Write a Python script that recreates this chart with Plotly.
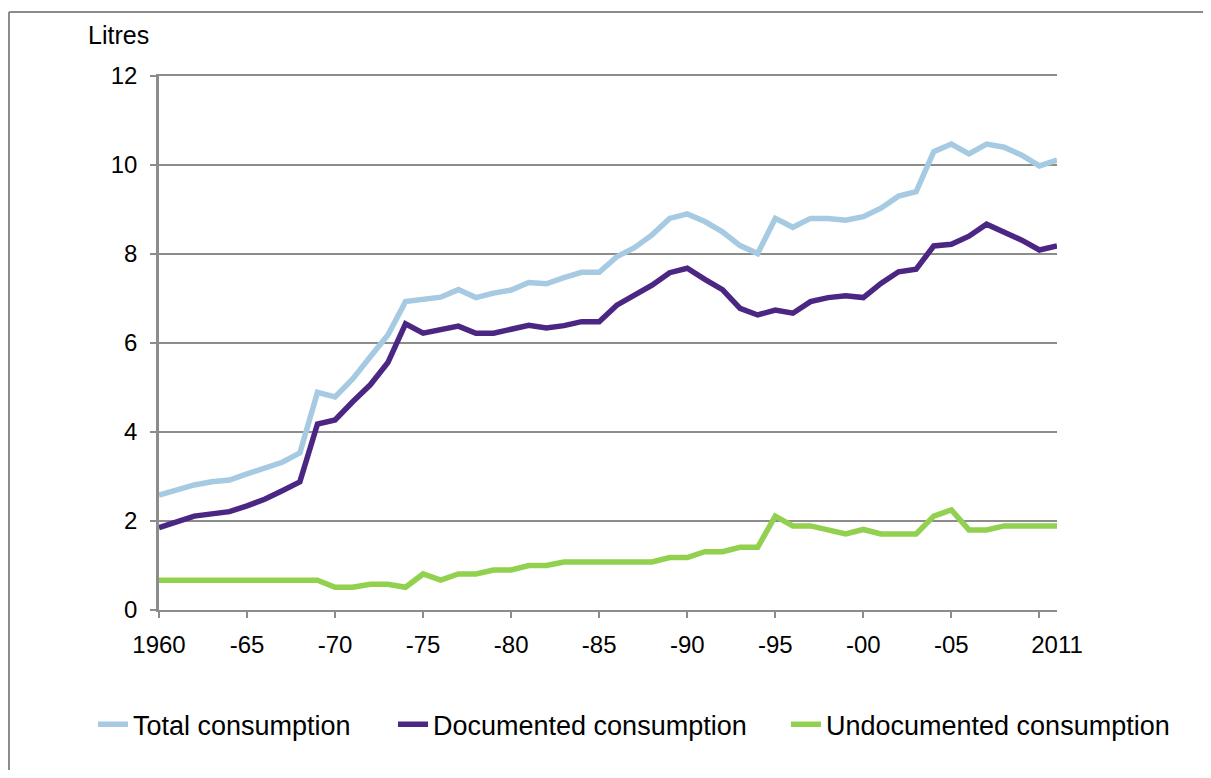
import plotly.graph_objects as go

years = list(range(1960, 2012))

total = [2.58, 2.71, 2.81, 2.88, 2.92, 3.06, 3.18, 3.32, 3.53, 4.89,
         4.79, 5.19, 5.69, 6.18, 6.93, 6.98, 7.03, 7.20, 7.02, 7.12,
         7.19, 7.36, 7.33, 7.47, 7.59, 7.59, 7.94, 8.14, 8.43, 8.80,
         8.90, 8.73, 8.50, 8.19, 8.01, 8.80, 8.60, 8.80, 8.80, 8.76,
         8.84, 9.03, 9.30, 9.40, 10.30, 10.47, 10.25, 10.47, 10.40, 10.22,
         9.98, 10.11]

documented = [1.85, 1.97, 2.11, 2.16, 2.21, 2.34, 2.49, 2.68, 2.88, 4.18,
              4.27, 4.68, 5.06, 5.56, 6.43, 6.22, 6.29, 6.38, 6.22, 6.22,
              6.31, 6.40, 6.34, 6.39, 6.48, 6.48, 6.85, 7.06, 7.30, 7.58,
              7.68, 7.43, 7.20, 6.78, 6.63, 6.74, 6.67, 6.93, 7.02, 7.06,
              7.02, 7.34, 7.60, 7.66, 8.18, 8.22, 8.40, 8.67, 8.49, 8.31,
              8.09, 8.18]

undocumented = [0.67, 0.67, 0.67, 0.67, 0.67, 0.67, 0.67, 0.67, 0.67, 0.67,
                0.51, 0.51, 0.58, 0.58, 0.51, 0.81, 0.67, 0.81, 0.81, 0.90,
                0.90, 1.00, 1.00, 1.08, 1.08, 1.08, 1.08, 1.08, 1.08, 1.18,
                1.18, 1.31, 1.31, 1.41, 1.41, 2.11, 1.89, 1.89, 1.80, 1.71,
                1.81, 1.71, 1.71, 1.71, 2.11, 2.25, 1.80, 1.80, 1.89, 1.89,
                1.89, 1.89]

series_names = ["Total consumption", "Documented consumption", "Undocumented consumption"]
series_colors = ["#A6CAE2", "#4B2683", "#92D050"]
legend_ids = ["legend", "legend2", "legend3"]
legend_x = [-0.0735, 0.2606, 0.6982]

tick_mark_years = list(range(1960, 2011, 5))
label_years = [1960, 1965, 1970, 1975, 1980, 1985, 1990, 1995, 2000, 2005, 2011]
label_text = ["1960", "-65", "-70", "-75", "-80", "-85", "-90", "-95", "-00", "-05", "2011"]

FONT = "Liberation Sans, Arial, sans-serif"
GRAY = "#8C8C8C"

fig = go.Figure()
for name, vals, col, lg in zip(series_names, [total, documented, undocumented],
                               series_colors, legend_ids):
    fig.add_trace(go.Scatter(x=years, y=vals, mode="lines", name=name, legend=lg,
                             line=dict(color=col, width=5.5)))

# invisible trace to anchor the label axis
fig.add_trace(go.Scatter(x=[1960, 2011], y=[0, 0], xaxis="x2", mode="lines",
                         line=dict(width=0), showlegend=False, hoverinfo="skip"))

legend_common = dict(orientation="h", xanchor="left", y=-0.215, yanchor="middle",
                     font=dict(size=27, family=FONT), bgcolor="rgba(0,0,0,0)")

fig.update_layout(
    width=1195, height=762,
    margin=dict(l=151, r=146, t=68, b=160),
    paper_bgcolor="white", plot_bgcolor="white",
    font=dict(family=FONT, size=24, color="black"),
    xaxis=dict(range=[1960, 2011], tickmode="array", tickvals=tick_mark_years,
               showticklabels=False, ticks="outside", ticklen=6, tickwidth=2,
               tickcolor=GRAY, showline=True, linecolor=GRAY, linewidth=2,
               mirror=True, showgrid=False, zeroline=False),
    xaxis2=dict(range=[1960, 2011], overlaying="x", anchor="y", side="bottom",
                tickmode="array", tickvals=label_years, ticktext=label_text,
                ticks="", showline=False, showgrid=False, zeroline=False,
                ticklabelstandoff=18, tickfont=dict(size=24, family=FONT)),
    yaxis=dict(range=[0, 12], tickmode="array", tickvals=[0, 2, 4, 6, 8, 10, 12],
               ticks="outside", ticklen=6, tickwidth=2, tickcolor=GRAY,
               showline=True, linecolor=GRAY, linewidth=2.5,
               showgrid=True, gridcolor=GRAY, gridwidth=2, zeroline=False,
               ticklabelstandoff=8, tickfont=dict(size=24, family=FONT)),
    legend=dict(x=legend_x[0], **legend_common),
    legend2=dict(x=legend_x[1], **legend_common),
    legend3=dict(x=legend_x[2], **legend_common),
    showlegend=True,
)

fig.add_annotation(text="Litres", xref="paper", yref="paper",
                   x=(118 - 159) / 898, y=(610 - 35) / 534,
                   showarrow=False, font=dict(size=25, family=FONT),
                   xanchor="center", yanchor="middle")

# outer chart-area frame (only its left and top edges are inside the picture)
frame_left = (9 - 159) / 898
frame_top = (610 - 12) / 534
fig.add_shape(type="line", xref="paper", yref="paper",
              x0=frame_left, x1=frame_left, y0=-1.0, y1=frame_top,
              line=dict(color=GRAY, width=2), layer="below")
fig.add_shape(type="line", xref="paper", yref="paper",
              x0=frame_left, x1=2.0, y0=frame_top, y1=frame_top,
              line=dict(color=GRAY, width=2), layer="below")

fig.write_html("out.html")
